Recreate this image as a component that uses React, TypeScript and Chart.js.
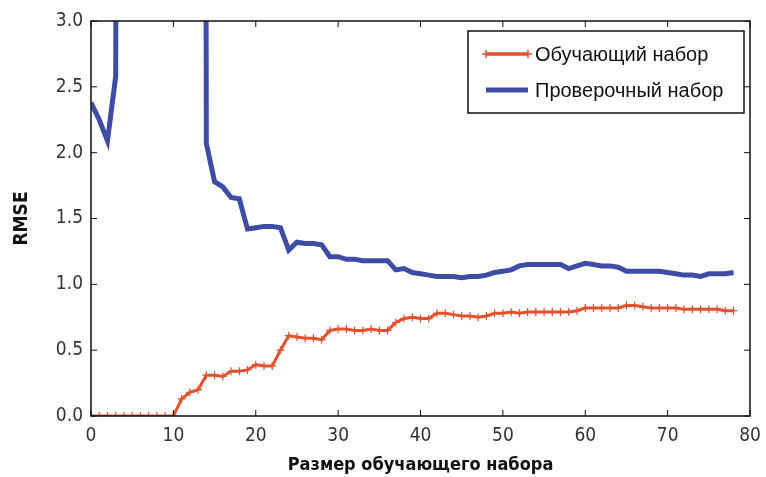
import React, { useEffect, useRef } from "react";
import { Chart, registerables } from "chart.js";
Chart.register(...registerables);

const trainLabel = "Обучающий набор";
const valLabel = "Проверочный набор";
const xTitle = "Размер обучающего набора";
const yTitle = "RMSE";

const trainErrors = [
  0, 0, 0, 0, 0, 0, 0, 0, 0, 0, 0, 0.13, 0.18, 0.2, 0.31, 0.31, 0.3, 0.34, 0.34, 0.35,
  0.39, 0.38, 0.38, 0.5, 0.61, 0.6, 0.59, 0.59, 0.58, 0.65, 0.66, 0.66, 0.65, 0.65, 0.66, 0.65,
  0.65, 0.71, 0.74, 0.75, 0.74, 0.74, 0.78, 0.78, 0.77, 0.76, 0.76, 0.75, 0.76, 0.78, 0.78,
  0.79, 0.78, 0.79, 0.79, 0.79, 0.79, 0.79, 0.79, 0.8, 0.82, 0.82, 0.82, 0.82, 0.82, 0.84,
  0.84, 0.83, 0.82, 0.82, 0.82, 0.82, 0.81, 0.81, 0.81, 0.81, 0.81, 0.8, 0.8,
];

const valErrors = [
  2.38, 2.25, 2.09, 2.58, 30, 45, 60, 80, 120, 150, 100, 80, 60, 40, 2.07, 1.78, 1.74, 1.66,
  1.65, 1.42, 1.43, 1.44, 1.44, 1.43, 1.26, 1.32, 1.31, 1.31, 1.3, 1.21, 1.21, 1.19, 1.19,
  1.18, 1.18, 1.18, 1.18, 1.11, 1.12, 1.09, 1.08, 1.07, 1.06, 1.06, 1.06, 1.05, 1.06, 1.06,
  1.07, 1.09, 1.1, 1.11, 1.14, 1.15, 1.15, 1.15, 1.15, 1.15, 1.12, 1.14, 1.16, 1.15, 1.14,
  1.14, 1.13, 1.1, 1.1, 1.1, 1.1, 1.1, 1.09, 1.08, 1.07, 1.07, 1.06, 1.08, 1.08, 1.08, 1.09,
];

const RED = "#e4512f";
const BLUE = "#3f4ca6";
const FONT = "'DejaVu Sans Condensed', 'DejaVu Sans', sans-serif";
const LEGEND_FONT = "'Liberation Sans', Arial, sans-serif";

const framePlugin = {
  id: "frameTicks",
  afterDraw(chart: any) {
    const { ctx, chartArea: a, scales } = chart;
    ctx.save();
    ctx.strokeStyle = "#111";
    ctx.lineWidth = 1.5;
    ctx.strokeRect(a.left, a.top, a.right - a.left, a.bottom - a.top);
    ctx.lineWidth = 1;
    const L = 6;
    scales.x.ticks.forEach((t: any) => {
      const px = scales.x.getPixelForValue(t.value);
      ctx.beginPath();
      ctx.moveTo(px, a.bottom);
      ctx.lineTo(px, a.bottom - L);
      ctx.moveTo(px, a.top);
      ctx.lineTo(px, a.top + L);
      ctx.stroke();
    });
    scales.y.ticks.forEach((t: any) => {
      const py = scales.y.getPixelForValue(t.value);
      ctx.beginPath();
      ctx.moveTo(a.left, py);
      ctx.lineTo(a.left + L, py);
      ctx.moveTo(a.right, py);
      ctx.lineTo(a.right - L, py);
      ctx.stroke();
    });

    // legend
    const bx = a.right - 282;
    const by = a.top + 10;
    const bw = 276;
    const bh = 82;
    ctx.fillStyle = "#fff";
    ctx.fillRect(bx, by, bw, bh);
    ctx.strokeStyle = "#111";
    ctx.lineWidth = 1.5;
    ctx.strokeRect(bx, by, bw, bh);
    const items = [
      { label: trainLabel, color: RED, w: 3.5, marker: true },
      { label: valLabel, color: BLUE, w: 5, marker: false },
    ];
    items.forEach((it, i) => {
      const y = by + 23 + i * 36;
      ctx.strokeStyle = it.color;
      ctx.lineWidth = it.w;
      ctx.beginPath();
      ctx.moveTo(bx + 18, y);
      ctx.lineTo(bx + 60, y);
      ctx.stroke();
      if (it.marker) {
        ctx.lineWidth = 1.5;
        [bx + 18, bx + 60].forEach((mx) => {
          ctx.beginPath();
          ctx.moveTo(mx, y - 4);
          ctx.lineTo(mx, y + 4);
          ctx.moveTo(mx - 4, y);
          ctx.lineTo(mx + 4, y);
          ctx.stroke();
        });
      }
      ctx.fillStyle = "#111";
      ctx.font = `20px ${LEGEND_FONT}`;
      ctx.textBaseline = "middle";
      ctx.textAlign = "left";
      ctx.fillText(it.label, bx + 67, y + 1);
    });
    ctx.restore();
  },
};

export default function App() {
  const ref = useRef<HTMLCanvasElement | null>(null);
  useEffect(() => {
    if (!ref.current) return;
    const chart = new Chart(ref.current, {
      type: "line",
      data: {
        datasets: [
          {
            label: trainLabel,
            data: trainErrors.map((v, i) => ({ x: i, y: v })),
            borderColor: RED,
            backgroundColor: RED,
            borderWidth: 3,
            pointStyle: "cross",
            pointRadius: 4,
            pointBorderWidth: 1.2,
            pointBorderColor: RED,
            tension: 0,
          },
          {
            label: valLabel,
            data: valErrors.map((v, i) => ({ x: i, y: v })),
            borderColor: BLUE,
            backgroundColor: BLUE,
            borderWidth: 5,
            pointRadius: 0,
            tension: 0,
          },
        ],
      },
      options: {
        animation: false,
        responsive: false,
        layout: { padding: { top: 21, right: 16, left: 0, bottom: 0 } },
        plugins: { legend: { display: false }, tooltip: { enabled: false } },
        scales: {
          x: {
            type: "linear",
            min: 0,
            max: 80,
            border: { display: false },
            grid: { display: false, drawTicks: false },
            ticks: {
              stepSize: 10,
              color: "#333",
              padding: 9,
              font: { family: FONT, size: 19 },
            },
            title: {
              display: true,
              text: xTitle,
              color: "#111",
              font: { family: FONT, size: 18, weight: "bold" },
              padding: { top: 4, bottom: 1 },
            },
            afterFit(s: any) {
              s.height = 61;
              s.paddingLeft = 0;
              s.paddingRight = 0;
            },
          },
          y: {
            type: "linear",
            min: 0,
            max: 3,
            border: { display: false },
            grid: { display: false, drawTicks: false },
            ticks: {
              stepSize: 0.5,
              color: "#333",
              padding: 8,
              font: { family: FONT, size: 19 },
              callback: (v: any) => Number(v).toFixed(1),
            },
            title: {
              display: true,
              text: yTitle,
              color: "#111",
              font: { family: FONT, size: 19, weight: "bold" },
              padding: { top: 11, bottom: 0 },
            },
            afterFit(s: any) {
              s.width = 91;
              s.paddingTop = 0;
              s.paddingBottom = 0;
            },
          },
        },
      },
      plugins: [framePlugin],
    } as any);
    return () => chart.destroy();
  }, []);
  return (
    <div style={{ position: "fixed", left: 0, top: 0, width: 766, height: 477, background: "#fff" }}>
      <canvas ref={ref} width={766} height={477} style={{ width: 766, height: 477 }} />
    </div>
  );
}
